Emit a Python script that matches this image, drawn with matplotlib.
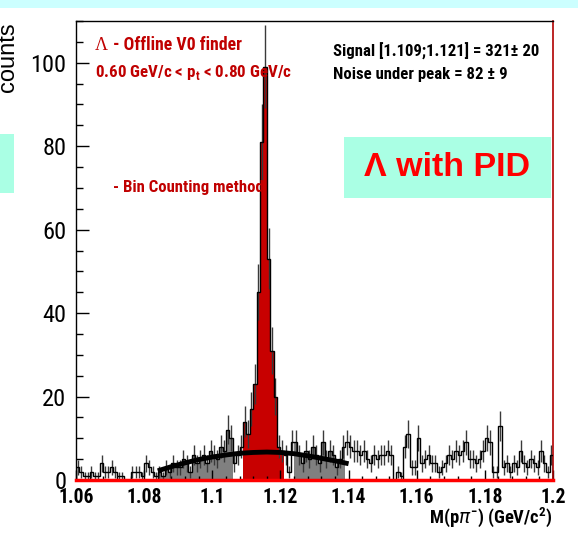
import numpy as np
import matplotlib
matplotlib.use("Agg")
import matplotlib.pyplot as plt
import matplotlib.font_manager as fm
from matplotlib.patches import Rectangle
from matplotlib.ticker import MultipleLocator

# ---- data: invariant mass histogram, 1 MeV bins from 1.06 to 1.20 GeV/c^2 ----
bin_lo = 1.06
bin_hi = 1.20
counts_low = [3, 2, 1, 1, 2, 1, 1, 4, 2, 2, 3, 2, 1, 1, 0, 0, 2, 2, 2, 1, 4, 3, 2, 1]
counts_left_side = [2, 1, 3, 2, 4, 3, 3, 5, 4, 2, 6, 4, 5, 6, 4, 7, 6, 5, 8, 7, 12, 10]
counts_left_gap = [4, 6, 8]
counts_peak = [14, 11, 17, 23, 45, 81, 99, 53, 31, 20, 8, 7]
counts_right_gap = [6, 2, 9]
counts_right_side = [9, 6, 4, 7, 5, 8, 6, 4, 9, 5, 7, 6, 3, 5, 8]
counts_high = [9, 8, 7, 7, 6, 7, 5, 4, 6, 5, 6, 6, 7, 6, 0, 2, 1, 8, 11, 3, 3,
               10, 4, 5, 6, 4, 4, 2, 3, 4, 6, 5, 7, 6, 7, 9, 5, 5, 4, 5, 7,
               10, 9, 2, 2, 13, 3, 4, 2, 4, 3, 7, 4, 3, 5, 4, 3, 7, 4, 2, 6]

# signal window and sideband ranges used by bin counting
signal_window = (1.109, 1.121)
sidebands = [(1.084, 1.106), (1.124, 1.139)]

# background fit curve sampled along the fit range
fit_x = [1.084, 1.088, 1.092, 1.096, 1.100, 1.104, 1.108, 1.112, 1.116,
         1.120, 1.124, 1.128, 1.132, 1.136, 1.140]
fit_y = [2.2, 3.2, 4.1, 4.9, 5.5, 6.0, 6.4, 6.6, 6.7, 6.6, 6.3, 5.8, 5.2, 4.6, 3.9]

xtick_vals = [1.06, 1.08, 1.10, 1.12, 1.14, 1.16, 1.18, 1.20]
xtick_labels = ["1.06", "1.08", "1.1", "1.12", "1.14", "1.16", "1.18", "1.2"]
ytick_vals = [0, 20, 40, 60, 80, 100]

counts = np.array(counts_low + counts_left_side + counts_left_gap + counts_peak
                  + counts_right_gap + counts_right_side + counts_high, dtype=float)
nb = len(counts)
edges = np.linspace(bin_lo, bin_hi, nb + 1)
centers = 0.5 * (edges[:-1] + edges[1:])


def _wnum(w):
    if isinstance(w, (int, float)):
        return w
    return {"bold": 700, "heavy": 900, "black": 900, "semibold": 600,
            "demibold": 600, "extra bold": 800}.get(str(w).lower(), 400)


# condensed sans families available, keeping the ones that ship a bold face
cond = {}
for f in fm.fontManager.ttflist:
    if "Narrow" in f.name or "Condensed" in f.name:
        cond.setdefault(f.name, set()).add(_wnum(f.weight))
preferred = ["Liberation Sans Narrow", "Roboto Condensed", "Open Sans Condensed",
             "Noto Sans Condensed", "DejaVu Sans Condensed"]
order = [n for n in preferred if n in cond] + sorted(n for n in cond if n not in preferred)
narrow_bold_face = next((n for n in order if max(cond[n]) >= 700), None)
narrow_face = next((n for n in order if 400 in cond[n]), narrow_bold_face)

if narrow_bold_face:
    narrow_b = [narrow_bold_face, "Liberation Sans", "DejaVu Sans"]
    kb = 1.18
else:
    narrow_b = ["Liberation Sans", "DejaVu Sans"]
    kb = 1.0
if narrow_face:
    narrow_r = [narrow_face, "Liberation Sans", "DejaVu Sans"]
    kr = 1.1
else:
    narrow_r = ["Liberation Sans", "DejaVu Sans"]
    kr = 1.0

W, H = 578, 534
fig = plt.figure(figsize=(W / 100, H / 100), dpi=100)
fig.patch.set_facecolor("white")


def fx(px):
    return px / W


def fy(py):
    return 1 - py / H


# slide decorations
fig.patches.append(Rectangle((0, fy(8)), 1, 8 / H, transform=fig.transFigure,
                             facecolor="#ccffff", edgecolor="none", zorder=0))
fig.patches.append(Rectangle((0, fy(193)), fx(14), (193 - 134) / H, transform=fig.transFigure,
                             facecolor="#aaffe4", edgecolor="none", zorder=0))
fig.text(fx(8), fy(57), "counts", rotation=90, ha="center", va="center",
         fontsize=17, family=["Liberation Sans", "DejaVu Sans"], color="black")

ax = fig.add_axes([fx(76), fy(480), fx(553) - fx(76), (480 - 21) / H])
ax.set_xlim(bin_lo, bin_hi)
ax.set_ylim(0, 110)

edge_eps = 1e-9
sb_mask = np.zeros(nb, bool)
for lo, hi in sidebands:
    sb_mask |= (centers > lo - edge_eps) & (centers < hi + edge_eps)
sig_mask = (centers > signal_window[0]) & (centers < signal_window[1])

ax.stairs(np.where(sb_mask, counts, 0), edges, fill=True, color="#808080", lw=0, zorder=1)
ax.stairs(np.where(sig_mask, counts, 0), edges, fill=True, color="#c80000", lw=0, zorder=1)
ax.stairs(counts, edges, color="black", lw=1.0, zorder=3)
err = np.sqrt(counts)
ax.vlines(centers, counts - err, counts + err, color="#3a3a3a", lw=1.0, zorder=2)

ax.plot(fit_x, fit_y, color="black", lw=3.5, solid_capstyle="butt", zorder=4)

ax.set_xticks(xtick_vals)
ax.set_xticklabels(xtick_labels)
ax.xaxis.set_minor_locator(MultipleLocator(0.004))
ax.set_yticks(ytick_vals)
ax.yaxis.set_minor_locator(MultipleLocator(5))
ax.tick_params(axis="y", which="major", direction="in", length=9, width=1, pad=7,
               labelsize=16 * kr, left=True, right=False)
ax.tick_params(axis="y", which="minor", direction="in", length=5, width=1, left=True, right=False)
ax.tick_params(axis="x", which="major", direction="in", length=7, width=1, pad=6,
               labelsize=12 * kb, bottom=True, top=False)
ax.tick_params(axis="x", which="minor", direction="in", length=3, width=1, bottom=True, top=False)
for lab in ax.get_yticklabels():
    lab.set_family(narrow_r)
for lab in ax.get_xticklabels():
    lab.set_family(narrow_b)
    lab.set_fontweight("bold")

for s in ("top", "left"):
    ax.spines[s].set_color("black")
    ax.spines[s].set_linewidth(1.0)
ax.spines["right"].set_color("#b00000")
ax.spines["right"].set_linewidth(1.2)
ax.spines["bottom"].set_color("#ff0000")
ax.spines["bottom"].set_linewidth(2.5)
ax.spines["bottom"].set_zorder(5)

red = "#c00000"
fig.text(fx(95), fy(45), "\u039b", color=red, fontsize=13,
         family=["Liberation Serif", "DejaVu Serif"], ha="left", va="center")
fig.text(fx(113), fy(45), "- Offline V0 finder", color=red, fontsize=10.8 * kb,
         fontweight="bold", family=narrow_b, ha="left", va="center")
fig.text(fx(95), fy(73), r"0.60 GeV/c < p$_{\mathregular{t}}$ < 0.80 GeV/c", color=red,
         fontsize=10.4 * kb, fontweight="bold", family=narrow_b, ha="left", va="center")
fig.text(fx(113), fy(187), "- Bin Counting method", color=red, fontsize=10.2 * kb,
         fontweight="bold", family=narrow_b, ha="left", va="center")

fig.text(fx(333), fy(51), "Signal [1.109;1.121] = 321\u00b1 20", color="black",
         fontsize=10.2 * kb, fontweight="bold", family=narrow_b, ha="left", va="center")
fig.text(fx(333), fy(75), "Noise under peak = 82 \u00b1 9", color="black",
         fontsize=10.2 * kb, fontweight="bold", family=narrow_b, ha="left", va="center")

fig.patches.append(Rectangle((fx(344), fy(198)), fx(551) - fx(344), (198 - 137) / H,
                             transform=fig.transFigure, facecolor="#aaffe4",
                             edgecolor="none", zorder=1))
fig.text(fx(447), fy(168), "\u039b with PID", color="#ff0000", fontsize=24.5,
         fontweight="bold", family=["Liberation Sans", "DejaVu Sans"],
         ha="center", va="center", zorder=2)

fig.text(fx(553), fy(518), r"M(p$\pi^{\mathregular{-}}$) (GeV/c$^{\mathregular{2}}$)",
         color="black", fontsize=11.3 * kb, fontweight="bold", family=narrow_b,
         ha="right", va="center")

fig.savefig("out.png", dpi=100)
